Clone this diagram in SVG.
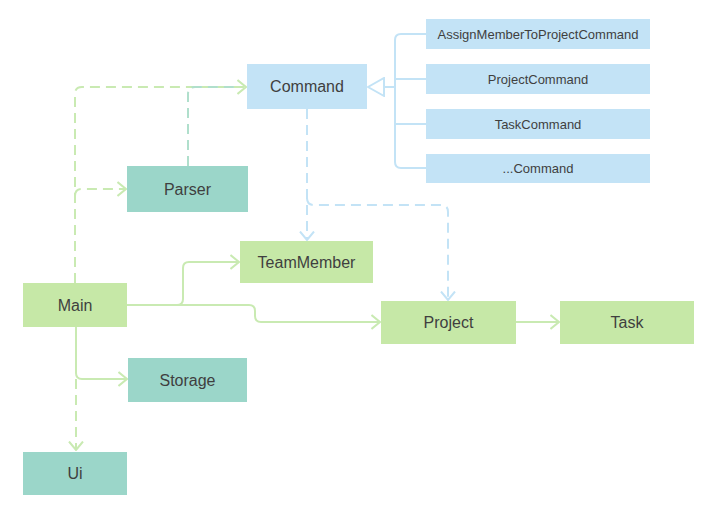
<svg xmlns="http://www.w3.org/2000/svg" width="719" height="526" viewBox="0 0 719 526">
<defs>
<style>
.n text{font-family:"Liberation Sans",Arial,sans-serif;fill:#3f3f3f;text-anchor:middle;dominant-baseline:central}
.big{font-size:16px}
.small{font-size:13px}
.green{fill:#c6e8a7}
.teal{fill:#9bd6c9}
.blue{fill:#c3e3f6}
.c path{fill:none;stroke-width:2;stroke-linejoin:round}
.cg{stroke:#c9eab2}
.ct{stroke:#b0dfcc}
.cb{stroke:#c3e3f6}
.d{stroke-dasharray:10 6}
</style>
<marker id="ag" viewBox="0 0 10 16" refX="9.5" refY="8" markerWidth="10" markerHeight="16" markerUnits="userSpaceOnUse" orient="auto">
<path d="M1 1 L9.5 8 L1 15" fill="none" stroke="#c9eab2" stroke-width="2"/>
</marker>
<marker id="ab" viewBox="0 0 10 16" refX="9.5" refY="8" markerWidth="10" markerHeight="16" markerUnits="userSpaceOnUse" orient="auto">
<path d="M1 1 L9.5 8 L1 15" fill="none" stroke="#c3e3f6" stroke-width="2"/>
</marker>
<marker id="tri" viewBox="0 0 18 20" refX="17" refY="10" markerWidth="18" markerHeight="20" markerUnits="userSpaceOnUse" orient="auto">
<path d="M1 1 L17 10 L1 19 Z" fill="#fff" stroke="#c3e3f6" stroke-width="2"/>
</marker>
</defs>
<rect width="719" height="526" fill="#fff"/>
<g id="connectors" class="c">
<path class="cg d" d="M75 283 V94 Q75 87 82 87 H246" marker-end="url(#ag)"/>
<path class="cg d" d="M75 196 Q75 189 82 189 H126" marker-end="url(#ag)"/>
<path class="ct d" d="M188 166 V94 Q188 87 195 87 H240"/>
<path class="cb d" d="M307 109 V240" marker-end="url(#ab)"/>
<path class="cb d" d="M307 198 Q307 205 314 205 H441 Q448 205 448 212 V300" marker-end="url(#ab)"/>
<path class="cg" d="M127 305 H177 Q183 305 183 299 V268 Q183 262 189 262 H239" marker-end="url(#ag)"/>
<path class="cg" d="M127 305 H249 Q255 305 255 311 V316 Q255 322 261 322 H380" marker-end="url(#ag)"/>
<path class="cg" d="M516 322 H559" marker-end="url(#ag)"/>
<path class="cg" d="M76 327 V373 Q76 379 82 379 H127" marker-end="url(#ag)"/>
<path class="cg d" d="M76 379 V450" marker-end="url(#ag)"/>
<path class="cb" d="M426 34 H401 Q395 34 395 40 V162 Q395 168 401 168 H426"/>
<path class="cb" d="M426 79 H395"/>
<path class="cb" d="M426 124 H395"/>
<path class="cb" d="M395 87 H368" marker-end="url(#tri)"/>
</g>
<g id="Command" class="n"><rect class="blue" x="247" y="64" width="120" height="45"/><text class="big" x="307" y="86.5">Command</text></g>
<g id="AssignMemberToProjectCommand" class="n"><rect class="blue" x="426" y="19" width="224" height="30"/><text class="small" x="538" y="34">AssignMemberToProjectCommand</text></g>
<g id="ProjectCommand" class="n"><rect class="blue" x="426" y="64" width="224" height="30"/><text class="small" x="538" y="79">ProjectCommand</text></g>
<g id="TaskCommand" class="n"><rect class="blue" x="426" y="109" width="224" height="30"/><text class="small" x="538" y="124">TaskCommand</text></g>
<g id="EtcCommand" class="n"><rect class="blue" x="426" y="154" width="224" height="29"/><text class="small" x="538" y="168.5">...Command</text></g>
<g id="Parser" class="n"><rect class="teal" x="127" y="166" width="121" height="46"/><text class="big" x="187.5" y="189">Parser</text></g>
<g id="TeamMember" class="n"><rect class="green" x="240" y="241" width="133" height="42"/><text class="big" x="306.5" y="262">TeamMember</text></g>
<g id="Main" class="n"><rect class="green" x="23" y="283" width="104" height="44"/><text class="big" x="75" y="305">Main</text></g>
<g id="Project" class="n"><rect class="green" x="381" y="301" width="135" height="43"/><text class="big" x="448.5" y="322.5">Project</text></g>
<g id="Task" class="n"><rect class="green" x="560" y="301" width="134" height="43"/><text class="big" x="627" y="322.5">Task</text></g>
<g id="Storage" class="n"><rect class="teal" x="128" y="358" width="119" height="44"/><text class="big" x="187.5" y="380">Storage</text></g>
<g id="Ui" class="n"><rect class="teal" x="23" y="452" width="104" height="43"/><text class="big" x="75" y="473.5">Ui</text></g>
</svg>
